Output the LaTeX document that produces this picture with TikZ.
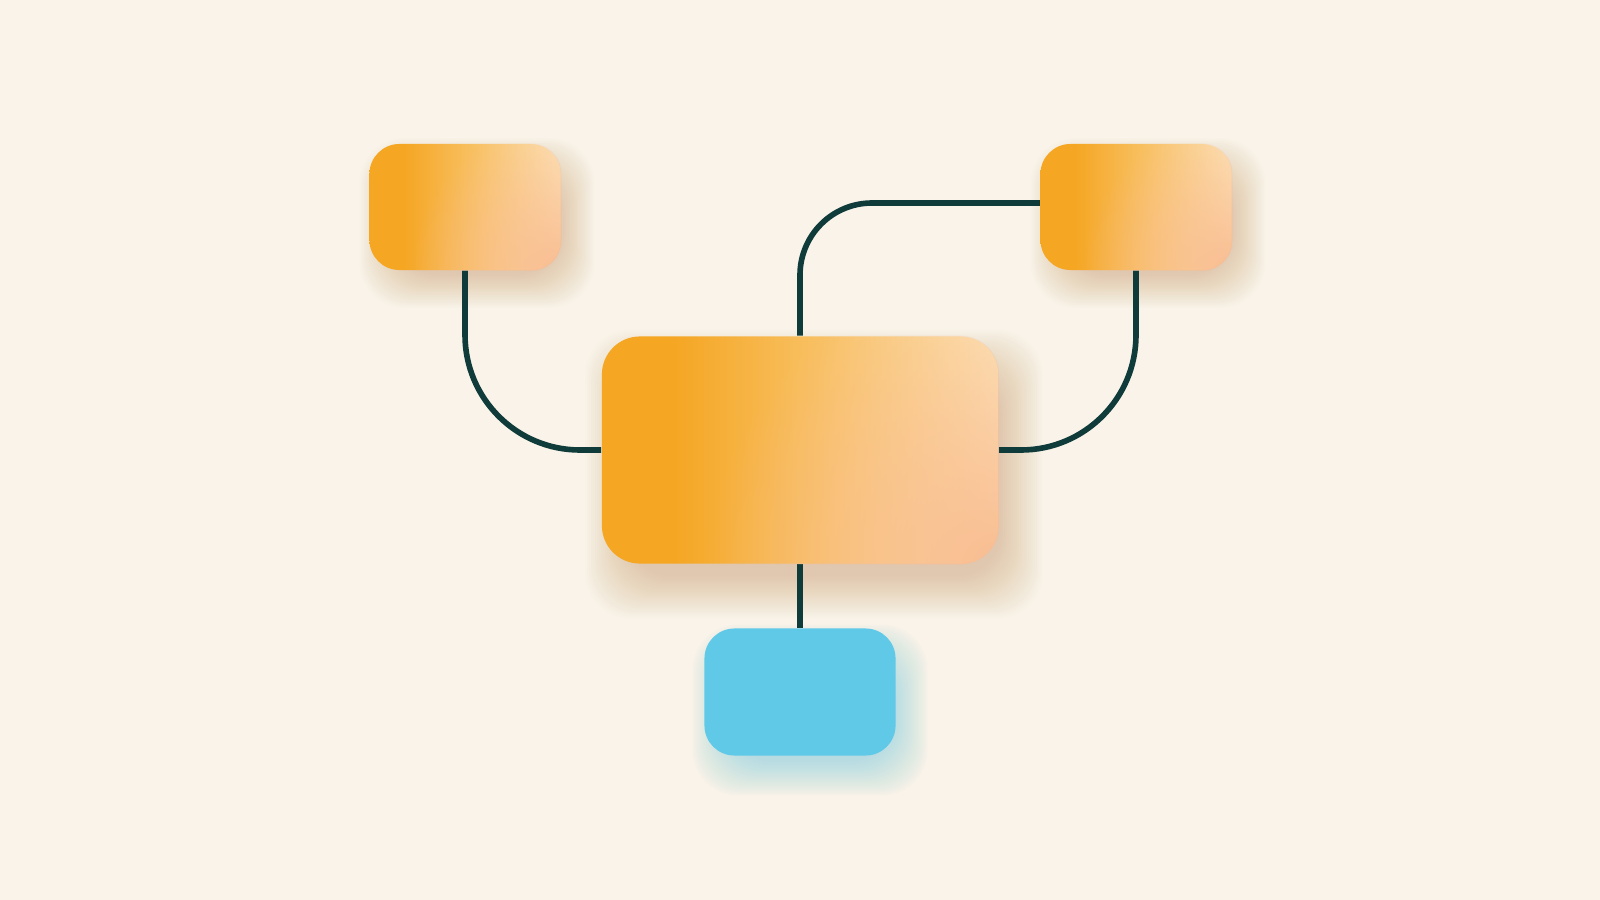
\documentclass[tikz,border=0pt]{standalone}
\usetikzlibrary{calc,fadings}
\pgfdeclarelayer{back}
\pgfdeclarelayer{shad}
\pgfdeclarelayer{lines}
\pgfsetlayers{back,shad,lines,main}
\definecolor{bgc}{HTML}{FAF3E9}
\definecolor{orangec}{HTML}{F5A623}
\definecolor{midc}{HTML}{F8C062}
\definecolor{creamc}{HTML}{FDE3B9}
\definecolor{peachc}{HTML}{F9BD92}
\definecolor{bluec}{HTML}{60C9E7}
\definecolor{linec}{HTML}{0F3B3A}
\definecolor{shadoc}{HTML}{C99E6C}
\definecolor{shadbc}{HTML}{6CC6E2}
\pgfdeclarehorizontalshading{oshade}{100bp}{color(0bp)=(orangec); color(25bp)=(orangec); color(34bp)=(orangec); color(52bp)=(midc); color(75bp)=(creamc); color(100bp)=(creamc)}
\tikzfading[name=fadebr, inner color=transparent!0, outer color=transparent!100]
\newcommand\boxshadow[5]{%
  \begin{pgfonlayer}{shad}
  \foreach \k in {1,...,22}{%
    \fill[#2, opacity=#5, rounded corners=0.45cm]
      ($(#1.south west)+(#3)+(0.14cm-\k*#4,0.14cm-\k*#4)$) rectangle
      ($(#1.north east)+(#3)+(-0.14cm+\k*#4,-0.14cm+\k*#4)$);
  }
  \end{pgfonlayer}}
\newcommand\peachglow[3]{%
  \begin{scope}
  \clip[rounded corners=#2] (#1.south west) rectangle (#1.north east);
  \fill[peachc, path fading=fadebr] (#1.south east) circle (#3);
  \end{scope}}
\tikzset{
  obox/.style={rounded corners=0.3cm, inner sep=0pt, shading=oshade,
    minimum width=1.91cm, minimum height=1.26cm},
  mainbox/.style={obox, rounded corners=0.38cm, minimum width=3.96cm, minimum height=2.27cm},
  bbox/.style={rounded corners=0.3cm, inner sep=0pt, fill=bluec,
    minimum width=1.91cm, minimum height=1.27cm},
  conn/.style={draw=linec, line width=1.6pt}
}
\begin{document}
\begin{tikzpicture}[x=0.01cm, y=-0.01cm]
\begin{pgfonlayer}{back}
\fill[bgc] (0,0) rectangle (1600,900);
\end{pgfonlayer}
\useasboundingbox (0,0) rectangle (1600,900);

\node[obox] (tl) at (465,207) {};
\node[obox] (tr) at (1136,207) {};
\node[mainbox] (main) at (800,450) {};
\node[bbox] (blue) at (800,692) {};

\peachglow{tl}{0.3cm}{1.5cm}
\peachglow{tr}{0.3cm}{1.5cm}
\peachglow{main}{0.38cm}{2.9cm}

\boxshadow{tl}{shadoc}{0.12cm,-0.16cm}{0.016cm}{0.022}
\boxshadow{tr}{shadoc}{0.12cm,-0.16cm}{0.016cm}{0.022}
\boxshadow{main}{shadoc}{0.14cm,-0.24cm}{0.02cm}{0.024}
\boxshadow{blue}{shadbc}{0.10cm,-0.18cm}{0.016cm}{0.024}

\begin{pgfonlayer}{lines}
\draw[conn, rounded corners=1.15cm] (tl.south) |- (main.west);
\draw[conn, rounded corners=1.15cm] (tr.south) |- (main.east);
\draw[conn, rounded corners=0.72cm] (main.north) |- ([yshift=0.04cm]tr.west);
\draw[conn] (main.south) -- (blue.north);
\end{pgfonlayer}
\end{tikzpicture}
\end{document}
